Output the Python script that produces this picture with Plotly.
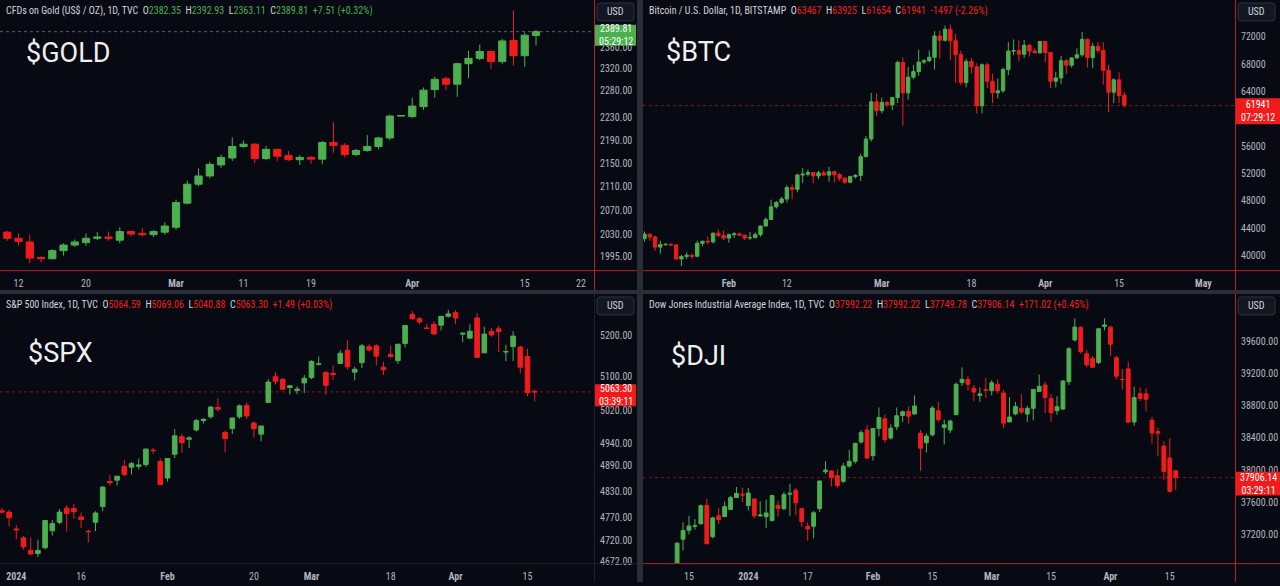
import numpy as np
import pandas as pd
import plotly.graph_objects as go

# Four TradingView-style daily candle panels: GOLD, BTC, SPX, DJI.

W, H = 1280, 586
BG = "#080a13"
UP = "#4caf50"
DOWN = "#f21b1b"
FRAME_RED = "#b3202c"
SEP = "#2a2e39"
AXIS_TXT = "#b2b5be"
HDR_TXT = "#d1d4dc"
NARROW = "Liberation Sans Narrow, Roboto Condensed, Liberation Sans, sans-serif"
END = "2024-05-31"
STOCK_HOLIDAYS = ["2023-12-25", "2024-01-01", "2024-01-15", "2024-02-19", "2024-03-29"]

# ---------------- GOLD (TVC, 1D) from 2024-02-09 ----------------
gold_start = "2024-02-09"
gold_open = [2034, 2024, 2018, 1993, 1991, 2004, 2013, 2017, 2024, 2026, 2021, 2035, 2032, 2030, 2034, 2042,
             2082, 2114, 2128, 2147, 2159, 2179, 2183, 2158, 2174, 2163, 2156, 2160, 2157, 2186, 2181, 2165,
             2172, 2179, 2194, 2233, 2232, 2250, 2281, 2301, 2291, 2329, 2339, 2352, 2333, 2373, 2344, 2382.35]
gold_high = [2036, 2032, 2030, 1995, 2006, 2016, 2022, 2032, 2034, 2035, 2042, 2037, 2041, 2037, 2050, 2088,
             2120, 2141, 2152, 2165, 2195, 2189, 2185, 2180, 2175, 2171, 2164, 2162, 2189, 2222, 2185, 2175,
             2199, 2196, 2236, 2234, 2266, 2285, 2305, 2305, 2331, 2353, 2365, 2354, 2376, 2431, 2388, 2392.93]
gold_low = [2020, 2012, 1984, 1985, 1990, 1996, 2010, 2012, 2021, 2020, 2016, 2027, 2027, 2026, 2030, 2038,
            2080, 2111, 2124, 2142, 2154, 2177, 2150, 2155, 2154, 2154, 2147, 2149, 2148, 2168, 2160, 2162,
            2170, 2174, 2190, 2232, 2230, 2244, 2266, 2280, 2268, 2302, 2336, 2319, 2328, 2326, 2323, 2363.11]
gold_close = [2024, 2019, 1992, 1991, 2004, 2013, 2018, 2024, 2026, 2024, 2035, 2031, 2030, 2035, 2044, 2083,
              2114, 2128, 2148, 2160, 2179, 2183, 2158, 2174, 2162, 2156, 2160, 2157, 2186, 2181, 2165, 2172,
              2179, 2194, 2233, 2234, 2251, 2280, 2300, 2291, 2329, 2339, 2352, 2333, 2372, 2344, 2383, 2389.81]
gold_yticks = [1995, 2030, 2070, 2110, 2150, 2190, 2230, 2280, 2320, 2360]
gold_xtick_dates = ["2024-02-12", "2024-02-20", "2024-03-01", "2024-03-11", "2024-03-19",
                    "2024-04-01", "2024-04-15", "2024-04-22"]
gold_xtick_text = ["12", "20", "<b>Mar</b>", "11", "19", "<b>Apr</b>", "15", "22"]

# ---------------- BTC (BITSTAMP, 1D) from 2024-01-16 ----------------
btc_start = "2024-01-16"
btc_open = [42500, 43150, 42740, 41260, 41620, 41660, 41580, 39530, 39900, 40080, 39930, 41820, 42120, 42030,
            43300, 42950,
            42580, 43080, 43190, 43000, 42580, 42660, 43090, 44340, 45300, 47150, 47770, 48290, 49960, 49700,
            51800, 51920, 52160, 51660, 52120, 51780, 52280, 51850, 51320, 50740, 51570, 51730, 54480, 57050,
            62500,
            61200, 62400, 62050, 63130, 68250, 63800, 66100, 66900, 68300, 68500, 69000, 72100, 71480, 73100,
            71400, 69400, 65300, 68400, 67600, 61900, 67900, 65500, 63800, 64100, 67200, 69900, 69990, 69450,
            70750, 69900, 69650,
            71300, 69700, 65500, 65980, 68500, 67850, 68900, 69360, 71620, 68950, 70600, 70000, 67100, 63900,
            65700, 63467]
btc_high = [43550, 43200, 42930, 42200, 41850, 41880, 41650, 40100, 40500, 40300, 42200, 42200, 42800, 43400,
            43850, 43700,
            43250, 43450, 43380, 43100, 43500, 43400, 44400, 45600, 48200, 48000, 48600, 50300, 50400, 52000,
            52800, 52600, 52200, 52400, 52500, 52980, 52400, 52100, 51500, 51700, 51950, 54900, 57500, 63800,
            63700,
            63100, 62600, 63200, 68500, 69000, 67600, 67900, 70100, 68700, 70000, 72800, 72900, 73650, 73780,
            72400, 70000, 68800, 68900, 68100, 68100, 68200, 66600, 65900, 67500, 71200, 71600, 71500, 71500,
            70950, 70300, 71400,
            71400, 69800, 66900, 69200, 68700, 69000, 70300, 72700, 71750, 71100, 71200, 71200, 67900, 65900,
            66800, 63925]
btc_low = [42050, 42200, 40700, 40300, 41450, 41500, 39450, 38500, 39500, 39550, 39800, 41400, 41650, 41800,
           42700, 42300,
           41900, 42600, 42900, 42300, 42300, 42550, 42800, 44300, 45250, 46900, 47600, 47800, 48300, 49300,
           50600, 51600, 50600, 51200, 51700, 50800, 50700, 50900, 50500, 50600, 51300, 50900, 54400, 56700,
           60400,
           60800, 61700, 61300, 62300, 59000, 62800, 65800, 66300, 68000, 68300, 67200, 68800, 71300, 68600,
           65300, 64900, 64600, 66600, 60800, 60800, 64500, 62300, 63000, 63800, 66400, 69300, 68400, 68900,
           69100, 69600, 69500,
           68300, 64500, 64600, 65100, 66600, 67500, 68800, 69100, 67500, 67400, 69600, 65000, 61000, 62300,
           62300, 61654]
btc_close = [43150, 42740, 41260, 41620, 41660, 41580, 39530, 39900, 40080, 39930, 41820, 42120, 42030, 43300,
             42950, 42580,
             43080, 43190, 43000, 42580, 42660, 43090, 44340, 45300, 47150, 47770, 48290, 49960, 49700, 51800,
             51920, 52160, 51660, 52120, 51780, 52280, 51850, 51320, 50740, 51570, 51730, 54480, 57050, 62500,
             61200,
             62400, 62050, 63130, 68250, 63800, 66100, 66900, 68300, 68500, 69000, 72100, 71480, 73100, 71400,
             69400, 65300, 68400, 67600, 61900, 67900, 65500, 63800, 64100, 67200, 69900, 69990, 69450, 70750,
             69900, 69650, 71300,
             69700, 65500, 65980, 68500, 67850, 68900, 69360, 71620, 68950, 70600, 70000, 67100, 63900, 65700,
             63400, 61941]
btc_yticks = [40000, 44000, 48000, 52000, 56000, 64000, 68000, 72000]
btc_xtick_dates = ["2024-02-01", "2024-02-12", "2024-03-01", "2024-03-18", "2024-04-01", "2024-04-15", "2024-05-01"]
btc_xtick_text = ["<b>Feb</b>", "12", "<b>Mar</b>", "18", "<b>Apr</b>", "15", "<b>May</b>"]

# ---------------- S&P 500 (TVC, 1D) from 2023-12-28 ----------------
spx_start = "2023-12-28"
spx_open = [4786, 4783, 4745, 4725, 4697, 4690, 4703, 4741, 4760, 4792, 4791, 4772, 4739, 4760, 4796, 4853,
            4856, 4888, 4886, 4888, 4892, 4925, 4899, 4861, 4916, 4957, 4951, 4973, 4995, 5004, 5026, 4967,
            4976, 5004, 5031, 4989, 4963, 5038, 5100, 5093, 5074, 5067, 5085, 5098, 5130, 5110, 5108, 5132,
            5164, 5111, 5134, 5173, 5175, 5123, 5154, 5139, 5181, 5253, 5242, 5219, 5228, 5226, 5248, 5257,
            5204, 5194, 5244, 5158, 5211, 5217, 5160, 5173, 5172, 5149, 5064.59]
spx_high = [4793, 4788, 4754, 4729, 4726, 4721, 4765, 4765, 4790, 4799, 4802, 4782, 4744, 4785, 4842, 4868,
            4866, 4903, 4898, 4906, 4929, 4931, 4906, 4906, 4975, 4964, 4958, 4999, 5000, 5030, 5048, 4971,
            5002, 5033, 5038, 4993, 4983, 5094, 5111, 5097, 5080, 5077, 5104, 5140, 5149, 5114, 5127, 5165,
            5189, 5124, 5180, 5180, 5179, 5136, 5175, 5180, 5226, 5261, 5246, 5229, 5236, 5249, 5264, 5263,
            5208, 5228, 5256, 5222, 5219, 5224, 5178, 5211, 5175, 5168, 5069.06]
spx_low = [4780, 4751, 4722, 4699, 4687, 4682, 4699, 4730, 4756, 4739, 4768, 4747, 4715, 4740, 4785, 4844,
           4844, 4865, 4869, 4881, 4887, 4916, 4845, 4853, 4907, 4919, 4930, 4969, 4988, 5000, 5016, 4920,
           4963, 4999, 4999, 4955, 4946, 5038, 5081, 5068, 5057, 5058, 5061, 5094, 5127, 5057, 5092, 5131,
           5117, 5091, 5121, 5161, 5127, 5104, 5146, 5131, 5171, 5240, 5229, 5216, 5203, 5213, 5245, 5229,
           5184, 5194, 5146, 5157, 5197, 5160, 5138, 5138, 5108, 5053, 5040.88]
spx_close = [4783, 4770, 4743, 4705, 4689, 4697, 4764, 4757, 4783, 4780, 4784, 4766, 4739, 4781, 4840, 4850,
             4865, 4869, 4894, 4891, 4928, 4925, 4846, 4906, 4959, 4943, 4954, 4995, 4998, 5027, 5022, 4953,
             5001, 5030, 5006, 4976, 4982, 5087, 5089, 5070, 5078, 5070, 5096, 5137, 5131, 5079, 5105, 5157,
             5124, 5118, 5175, 5165, 5150, 5117, 5149, 5179, 5225, 5242, 5234, 5218, 5204, 5248, 5254, 5244,
             5206, 5211, 5147, 5204, 5202, 5210, 5161, 5199, 5123, 5062, 5063.30]
spx_yticks = [4672, 4720, 4770, 4830, 4890, 4940, 5020, 5100, 5200]
spx_xtick_dates = ["2024-01-02", "2024-01-16", "2024-02-01", "2024-02-20", "2024-03-01", "2024-03-18",
                   "2024-04-01", "2024-04-15"]
spx_xtick_text = ["<b>2024</b>", "16", "<b>Feb</b>", "20", "<b>Mar</b>", "18", "<b>Apr</b>", "15"]

# ---------------- Dow Jones (TVC, 1D) from 2023-12-13 ----------------
dji_start = "2023-12-13"
dji_open = [36570, 37140, 37250, 37300, 37330, 37560, 37170, 37430, 37420, 37510, 37660, 37700,
            37560, 37640, 37430, 37420, 37370, 37560, 37520, 37700, 37750, 37520, 37300, 37300, 37520, 37980,
            37990, 37930, 37860, 38050, 38110, 38350, 38500,
            38180, 38520, 38640, 38400, 38540, 38680, 38730, 38700, 38460, 38340, 38440, 38740, 38530, 38500,
            38690, 39090, 39130, 39020, 38930, 39000,
            38990, 39070, 38960, 38600, 38700, 38770, 38700, 38770, 38980, 39060, 38890, 38740, 38760, 39100,
            39620, 39780, 39450, 39390, 39340, 39790,
            39780, 39400, 39130, 39260, 38600, 38950, 38950, 38620, 38480, 38300, 38150, 37992.22]
dji_high = [37100, 37350, 37430, 37390, 37570, 37640, 37420, 37530, 37610, 37680, 37790, 37780,
            37780, 37650, 37610, 37630, 37690, 37620, 37730, 37830, 37780, 37530, 37350, 37490, 37870, 38110,
            38000, 38010, 38090, 38250, 38340, 38500, 38560,
            38520, 38780, 38690, 38570, 38780, 38740, 38790, 38930, 38500, 38460, 38800, 38850, 38630, 38630,
            39090, 39280, 39170, 39060, 39030, 39150,
            39120, 39130, 39000, 38910, 38850, 38950, 38800, 39010, 39190, 39100, 38950, 38920, 39120, 39530,
            39890, 39790, 39500, 39420, 39770, 39890,
            39800, 39420, 39260, 39350, 39040, 39030, 39020, 38660, 38530, 38360, 38400, 37992.22]
dji_low = [36560, 37000, 37200, 37260, 37330, 37080, 37150, 37330, 37420, 37510, 37660, 37600,
           37500, 37400, 37420, 37280, 37370, 37420, 37500, 37430, 37440, 37290, 37120, 37150, 37480, 37950,
           37800, 37780, 37840, 38030, 38080, 38330, 38140,
           38120, 38420, 38340, 38380, 38500, 38600, 38580, 38690, 37990, 38220, 38420, 38600, 38320, 38460,
           38690, 39050, 38990, 38860, 38850, 38900,
           38930, 38950, 38520, 38600, 38680, 38700, 38600, 38620, 38980, 38710, 38600, 38690, 38750, 39060,
           39600, 39450, 39280, 39270, 39320, 39740,
           39420, 39130, 39000, 38590, 38550, 38860, 38730, 38330, 38170, 37880, 37720, 37749.78]
dji_close = [37090, 37248, 37305, 37306, 37557, 37082, 37404, 37385, 37545, 37657, 37710, 37690,
             37715, 37430, 37440, 37466, 37683, 37525, 37695, 37711, 37593, 37361, 37267, 37469, 37864, 38001,
             37906, 37806, 38050, 38109, 38333, 38467, 38150,
             38519, 38654, 38380, 38521, 38677, 38726, 38671, 38797, 38273, 38424, 38773, 38628, 38564, 38612,
             39069, 39131, 39069, 38972, 38949, 38996,
             39087, 38989, 38585, 38661, 38791, 38723, 38770, 39005, 39043, 38906, 38715, 38790, 39110, 39512,
             39781, 39476, 39313, 39282, 39760, 39807,
             39567, 39170, 39127, 38597, 38904, 38892, 38883, 38462, 38459, 37983, 37735, 37906.14]
dji_yticks = [37200, 37600, 38000, 38400, 38800, 39200, 39600]
dji_xtick_dates = ["2023-12-15", "2024-01-02", "2024-01-17", "2024-02-01", "2024-02-15", "2024-03-01",
                   "2024-03-15", "2024-04-01", "2024-04-15"]
dji_xtick_text = ["15", "<b>2024</b>", "17", "<b>Feb</b>", "15", "<b>Mar</b>", "15", "<b>Apr</b>", "15"]


def ohlc_header(title, values, change, color):
    parts = [f"<span style='color:{HDR_TXT}'>{title}</span>"]
    for letter, v in zip("OHLC", values):
        parts.append(f"{letter}<span style='color:{color}'>{v}</span>")
    parts.append(f"<span style='color:{color}'>{change}</span>")
    return "\u00a0\u00a0".join(parts)


panels = [
    dict(days=pd.bdate_range(gold_start, END),
         o=gold_open, h=gold_high, l=gold_low, c=gold_close,
         yticks=gold_yticks, fmt="{:.2f}", xt_dates=gold_xtick_dates, xt_text=gold_xtick_text,
         box=(0, 594, 0, 272), bar0=7.3, step=11.249, log=True, calib=((2320, 69), (1995, 258)),
         name="$GOLD", name_xy=(25, 53),
         header=ohlc_header("CFDs on Gold (US$ / OZ), 1D, TVC", ["2382.35", "2392.93", "2363.11", "2389.81"],
                            "+7.51 (+0.32%)", UP),
         hdr_xy=(5, 11), color=UP, last=gold_close[-1], last_txt=("2389.81", "05:29:12"),
         tag=(595, 25, 636, 46), dot="#5d616c", frame=FRAME_RED),
    dict(days=pd.date_range(btc_start, END, freq="D"),
         o=btc_open, h=btc_high, l=btc_low, c=btc_close,
         yticks=btc_yticks, fmt="{:.0f}", xt_dates=btc_xtick_dates, xt_text=btc_xtick_text,
         box=(643, 1235, 0, 272), bar0=644.5, step=5.273, log=False, calib=((72000, 37), (40000, 257.5)),
         name="$BTC", name_xy=(665, 52),
         header=ohlc_header("Bitcoin / U.S. Dollar, 1D, BITSTAMP", ["63467", "63925", "61654", "61941"],
                            "-1497 (-2.26%)", DOWN),
         hdr_xy=(648, 11), color=DOWN, last=btc_close[-1], last_txt=("61941", "07:29:12"),
         tag=(1236, 99, 1280, 125), dot="#7a1820", frame=FRAME_RED),
    dict(days=pd.bdate_range(spx_start, END, freq="C", holidays=STOCK_HOLIDAYS),
         o=spx_open, h=spx_high, l=spx_low, c=spx_close,
         yticks=spx_yticks, fmt="{:.2f}", xt_dates=spx_xtick_dates, xt_text=spx_xtick_text,
         box=(0, 594, 296, 567), bar0=1.9, step=7.2, log=True, calib=((5200, 338), (4940, 447)),
         name="$SPX", name_xy=(27, 355),
         header=ohlc_header("S&amp;P 500 Index, 1D, TVC", ["5064.59", "5069.06", "5040.88", "5063.30"],
                            "+1.49 (+0.03%)", DOWN),
         hdr_xy=(5, 307), color=DOWN, last=spx_close[-1], last_txt=("5063.30", "03:39:11"),
         tag=(595, 387, 636, 409), dot="#7a1820", frame="#1c2030"),
    dict(days=pd.bdate_range(dji_start, END, freq="C", holidays=STOCK_HOLIDAYS),
         o=dji_open, h=dji_high, l=dji_low, c=dji_close,
         yticks=dji_yticks, fmt="{:.2f}", xt_dates=dji_xtick_dates, xt_text=dji_xtick_text,
         box=(643, 1235, 296, 567), bar0=677.1, step=5.936, log=False, calib=((39600, 344), (37200, 538)),
         name="$DJI", name_xy=(670, 358),
         header=ohlc_header("Dow Jones Industrial Average Index, 1D, TVC",
                            ["37992.22", "37992.22", "37749.78", "37906.14"], "+171.02 (+0.45%)", DOWN),
         hdr_xy=(648, 307), color=DOWN, last=dji_close[-1], last_txt=("37906.14", "03:29:11"),
         tag=(1236, 475, 1280, 499), dot="#7a1820", frame=FRAME_RED),
]


def px(x):
    return x / W


def py(y):
    return 1 - y / H


def y_range(calib, top, bottom, log):
    f = np.log10 if log else (lambda v: v)
    (v1, p1), (v2, p2) = calib
    k = (f(v1) - f(v2)) / (p2 - p1)
    return [f(v1) - (bottom - p1) * k, f(v1) + (p1 - top) * k]


def rounded_rect(x0, y0, x1, y1, r=3):
    pts = [("M", x0 + r, y0), ("L", x1 - r, y0), ("Q", x1, y0, x1, y0 + r), ("L", x1, y1 - r),
           ("Q", x1, y1, x1 - r, y1), ("L", x0 + r, y1), ("Q", x0, y1, x0, y1 - r), ("L", x0, y0 + r),
           ("Q", x0, y0, x0 + r, y0)]
    out = []
    for p in pts:
        coords = [f"{px(p[i]):.5f},{py(p[i + 1]):.5f}" for i in range(1, len(p), 2)]
        out.append(p[0] + " ".join(coords))
    return " ".join(out) + " Z"


def label(x, y, text, size, color, family=NARROW, xanchor="center"):
    return dict(xref="paper", yref="paper", x=px(x), y=py(y), xanchor=xanchor, yanchor="middle",
                text=text, showarrow=False, font=dict(family=family, size=size, color=color),
                align="center", borderpad=0)


fig = go.Figure()
shapes = []
annotations = []
layout = {}

for i, p in enumerate(panels):
    n = "" if i == 0 else str(i + 1)
    days = p["days"]
    x = list(range(len(p["c"])))
    fig.add_trace(go.Candlestick(
        x=x, open=p["o"], high=p["h"], low=p["l"], close=p["c"],
        xaxis="x" + n, yaxis="y" + n,
        text=[d.strftime("%Y-%m-%d") for d in days[:len(x)]],
        increasing=dict(line=dict(color=UP, width=1), fillcolor=UP),
        decreasing=dict(line=dict(color=DOWN, width=1), fillcolor=DOWN),
        whiskerwidth=0, showlegend=False,
    ))

    left, right, top, bottom = p["box"]
    panel_right = 637 if left == 0 else 1280
    panel_bottom = 292 if top == 0 else 586
    layout["xaxis" + n] = dict(
        domain=[px(left), px(right)],
        range=[(left - p["bar0"]) / p["step"], (right - p["bar0"]) / p["step"]],
        anchor="y" + n, showgrid=False, zeroline=False, showline=False, ticks="",
        tickvals=[days.get_loc(pd.Timestamp(d)) for d in p["xt_dates"]], ticktext=p["xt_text"],
        tickfont=dict(family=NARROW, size=10, color=AXIS_TXT), ticklabelstandoff=6,
        rangeslider=dict(visible=False), fixedrange=True,
    )
    layout["yaxis" + n] = dict(
        domain=[py(bottom), py(top)],
        type="log" if p["log"] else "linear",
        range=y_range(p["calib"], top, bottom, p["log"]),
        anchor="x" + n, side="right", showgrid=False, zeroline=False, showline=False, ticks="",
        tickvals=p["yticks"], ticktext=[p["fmt"].format(v) for v in p["yticks"]],
        tickfont=dict(family=NARROW, size=10, color=AXIS_TXT), ticklabelstandoff=5, fixedrange=True,
    )

    # last price dotted line
    shapes.append(dict(type="line", xref="x" + n + " domain", yref="y" + n, x0=0, x1=1,
                       y0=p["last"], y1=p["last"], line=dict(color=p["dot"], width=1, dash="dot"),
                       layer="below"))

    # frame lines (bottom + right)
    shapes.append(dict(type="line", xref="paper", yref="paper", x0=px(left), x1=px(panel_right),
                       y0=py(bottom + 0.5), y1=py(bottom + 0.5), line=dict(color=p["frame"], width=1),
                       layer="above"))
    shapes.append(dict(type="line", xref="paper", yref="paper", x0=px(right + 0.5), x1=px(right + 0.5),
                       y0=py(top), y1=py(panel_bottom), line=dict(color=p["frame"], width=1), layer="above"))

    # price tag
    tx0, ty0, tx1, ty1 = p["tag"]
    shapes.append(dict(type="rect", xref="paper", yref="paper", x0=px(tx0), x1=px(tx1), y0=py(ty1), y1=py(ty0),
                       fillcolor=p["color"], line=dict(width=0), layer="above"))
    annotations.append(label((tx0 + tx1) / 2, (ty0 + ty1) / 2, p["last_txt"][0] + "<br>" + p["last_txt"][1],
                             10, "#ffffff"))

    # USD button
    ux0, uy0 = right + 3, top + 3
    shapes.append(dict(type="path", xref="paper", yref="paper", path=rounded_rect(ux0, uy0, ux0 + 37, uy0 + 18),
                       fillcolor="#131722", line=dict(color="#2f3340", width=1), layer="above"))
    annotations.append(label(ux0 + 18.5, uy0 + 9, "USD", 10, HDR_TXT))

    # header and big ticker name
    annotations.append(label(p["hdr_xy"][0], p["hdr_xy"][1], p["header"], 10, HDR_TXT, xanchor="left"))
    annotations.append(label(p["name_xy"][0], p["name_xy"][1], p["name"], 27, "#f0f0f0",
                             family="Roboto, sans-serif", xanchor="left"))

# panel separators
shapes.append(dict(type="rect", xref="paper", yref="paper", x0=px(637), x1=px(643), y0=0, y1=1,
                   fillcolor=SEP, line=dict(width=0), layer="above"))
shapes.append(dict(type="rect", xref="paper", yref="paper", x0=0, x1=1, y0=py(296), y1=py(292),
                   fillcolor=SEP, line=dict(width=0), layer="above"))

fig.update_layout(
    width=W, height=H,
    margin=dict(l=0, r=0, t=0, b=0),
    paper_bgcolor=BG, plot_bgcolor=BG,
    boxgap=0.2, boxgroupgap=0.2,
    showlegend=False, hovermode="closest",
    shapes=shapes, annotations=annotations,
    **layout,
)

fig.write_html("out.html", config={"displayModeBar": False},
               post_script="document.body.style.margin='0';document.body.style.overflow='hidden';")
